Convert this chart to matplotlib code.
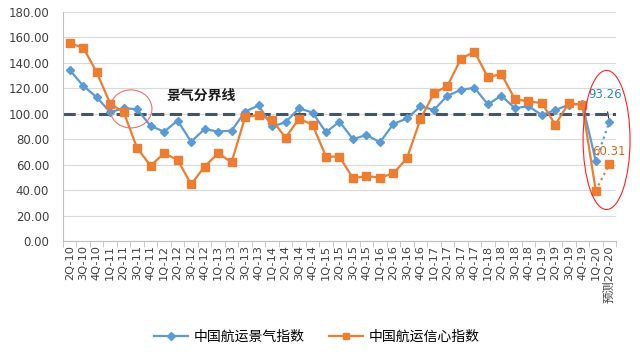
import matplotlib.pyplot as plt
import numpy as np
from matplotlib.patches import Ellipse

plt.rcParams['font.family'] = ['DejaVu Sans', 'Noto Sans CJK SC']

quarters = ["2Q-10", "3Q-10", "4Q-10",
            "1Q-11", "2Q-11", "3Q-11", "4Q-11",
            "1Q-12", "2Q-12", "3Q-12", "4Q-12",
            "1Q-13", "2Q-13", "3Q-13", "4Q-13",
            "1Q-14", "2Q-14", "3Q-14", "4Q-14",
            "1Q-15", "2Q-15", "3Q-15", "4Q-15",
            "1Q-16", "2Q-16", "3Q-16", "4Q-16",
            "1Q-17", "2Q-17", "3Q-17", "4Q-17",
            "1Q-18", "2Q-18", "3Q-18", "4Q-18",
            "1Q-19", "2Q-19", "3Q-19", "4Q-19",
            "1Q-20", "预测2Q-20"]

prosperity = [134.4, 121.9, 113.0, 101.2, 104.4, 103.5, 90.4, 85.9, 94.6, 78.0,
              88.0, 86.0, 86.7, 101.7, 106.5, 90.0, 93.3, 104.3, 100.9, 85.5,
              93.8, 80.0, 83.3, 77.6, 92.0, 96.3, 105.8, 103.0, 114.2, 118.7,
              120.5, 107.4, 114.2, 104.3, 106.0, 99.0, 103.0, 107.0, 107.8, 62.9,
              93.26]

confidence = [155.4, 152.0, 132.6, 108.0, 101.2, 72.9, 59.2, 69.0, 63.7, 44.6,
              58.4, 69.0, 61.9, 97.3, 99.0, 95.1, 81.2, 96.1, 91.4, 66.3,
              66.3, 49.3, 51.1, 49.8, 53.2, 65.0, 95.7, 116.1, 121.9, 143.1,
              148.8, 128.7, 131.3, 111.5, 109.7, 108.4, 91.4, 108.4, 107.1, 39.6,
              60.31]

blue = "#5B9BD5"
orange = "#ED7D31"
x = np.arange(len(quarters))
n = len(quarters) - 1  # last point is the forecast

fig = plt.figure(figsize=(6.4, 3.59), dpi=100)
ax = fig.add_axes([0.0984, 0.3287, 0.8641, 0.638])

ax.axhline(100, color="#44546A", lw=2.2, ls=(0, (4, 1.8)), zorder=2)

ax.plot(x[:n], prosperity[:n], color=blue, lw=1.6, marker="D", ms=4.5,
        zorder=3, label="中国航运景气指数")
ax.plot(x[:n], confidence[:n], color=orange, lw=1.6, marker="s", ms=5.5,
        zorder=3, label="中国航运信心指数")
# forecast segment, dotted
ax.plot(x[n - 1:], prosperity[n - 1:], color=blue, lw=1.6, ls=":", zorder=3)
ax.plot(x[n - 1:], confidence[n - 1:], color=orange, lw=1.6, ls=":", zorder=3)
ax.plot(x[n], prosperity[n], color=blue, marker="D", ms=4.5, ls="none", zorder=4)
ax.plot(x[n], confidence[n], color=orange, marker="s", ms=5.5, ls="none", zorder=4)

ax.annotate(f"{prosperity[n]:.2f}", xy=(x[n], prosperity[n]),
            xytext=(x[n] - 0.32, prosperity[n] + 22), ha="center", va="center",
            color="#2E86C1", fontsize=8.5,
            arrowprops=dict(arrowstyle="-", color="#262626", lw=0.8,
                            shrinkA=6, shrinkB=3))
ax.text(x[n], confidence[n] + 9.7, f"{confidence[n]:.2f}", ha="center",
        va="center", color="#D2691E", fontsize=8.5)

ax.text(9.73, 114.4, "景气分界线", ha="center", va="center", fontsize=10,
        fontweight="bold", color="#1a1a1a")

ax.add_patch(Ellipse((4.54, 103.8), 3.11, 29.9, fill=False, ec="#F07070",
                     lw=0.8, zorder=5))
ax.add_patch(Ellipse((39.8, 79.4), 3.48, 109.3, fill=False, ec="#FF2020",
                     lw=0.8, zorder=5, clip_on=False))

ax.set_xlim(-0.5, len(quarters) - 0.5)
ax.set_ylim(0, 180)
ax.set_yticks(np.arange(0, 181, 20))
ax.set_yticklabels([f"{v:.2f}" for v in np.arange(0, 181, 20)])
ax.yaxis.grid(True, color="#D9D9D9", lw=0.8)
ax.set_axisbelow(True)

ax.set_xticks(x)
ax.set_xticklabels(quarters, rotation=90, fontsize=8.2, color="#404040")
ax.set_xticks(np.arange(-0.5, len(quarters), 1), minor=True)
ax.tick_params(axis="x", which="major", length=0, pad=3)
ax.tick_params(axis="x", which="minor", length=4, color="#BFBFBF")
ax.tick_params(axis="y", length=0, labelsize=8.5, labelcolor="#404040", pad=10)

for s in ["top", "right"]:
    ax.spines[s].set_visible(False)
ax.spines["left"].set_color("#BFBFBF")
ax.spines["bottom"].set_color("#BFBFBF")

fig.legend(loc="center", bbox_to_anchor=(0.495, 0.061), ncol=2, frameon=False,
           fontsize=10, handlelength=2.4, columnspacing=1.8, handletextpad=0.4,
           markerscale=0.8)

fig.savefig("out.png", dpi=100)
